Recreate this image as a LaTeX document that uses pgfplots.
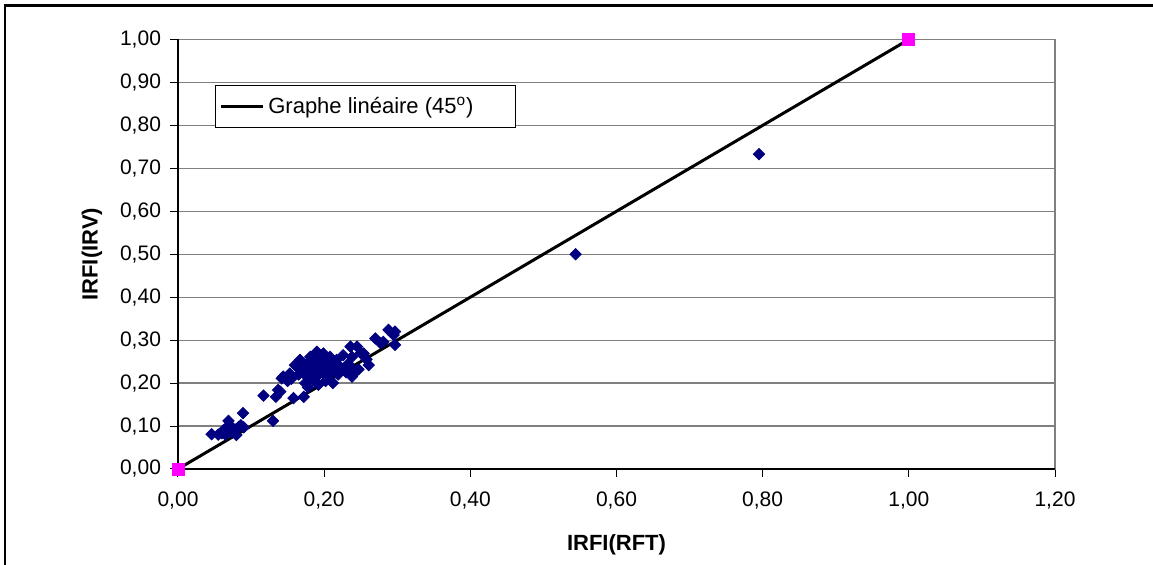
\documentclass[border=0pt]{standalone}
\usepackage{pgfplots}
\pgfplotsset{compat=1.18}
\usepackage{fontspec}
\setmainfont{Liberation Sans}
\definecolor{navyd}{RGB}{0,0,128}
\definecolor{magp}{RGB}{255,0,255}
\definecolor{gridg}{RGB}{128,128,128}
\begin{document}
\begin{tikzpicture}
\useasboundingbox (0,0) rectangle (576.5pt,282.5pt);
\draw[line width=1.2pt] (2.5pt,-1pt) -- (2.5pt,279.8pt) -- (578pt,279.8pt);
\begin{axis}[
  at={(89pt,48pt)}, anchor=south west,
  scale only axis, width=438.5pt, height=214.75pt,
  xmin=0, xmax=1.2, ymin=0, ymax=1,
  xtick={0,0.2,...,1.2}, ytick={0,0.1,...,1.0},
  tick align=outside, major tick length=4pt,
  tick style={black, line width=0.5pt},
  xtick pos=bottom, ytick pos=left,
  axis line style={gridg, line width=0.7pt},
  ymajorgrids, grid style={gridg, line width=0.6pt},
  /pgf/number format/.cd, fixed, fixed zerofill, precision=2, use comma, assume math mode=true,
  /pgfplots/.cd,
  ticklabel style={font=\fontsize{10.5}{12}\selectfont},
  xticklabel style={yshift=-4pt},
  yticklabel style={xshift=-1pt},
  xlabel={\textbf{IRFI(RFT)}}, ylabel={\textbf{IRFI(IRV)}},
  label style={font=\fontsize{11}{13}\selectfont},
  xlabel style={at={(axis description cs:0.5,-0.177)}, anchor=center},
  ylabel style={at={(axis description cs:-0.098,0.5)}, anchor=center, rotate=0},
  legend style={at={(axis description cs:0.042,0.893)}, anchor=north west,
    draw=black, line width=0.5pt, font=\fontsize{11}{13}\selectfont,
    inner xsep=2pt, inner ysep=3.6pt, cells={anchor=west}},
  legend image code/.code={\draw[#1] (0pt,0pt) -- (21pt,0pt);},
  legend cell align=left,
  clip=false,
]
\draw[black, line width=0.7pt] (axis cs:0,0) -- (axis cs:1.2,0);
\draw[black, line width=0.7pt] (axis cs:0,0) -- (axis cs:0,1);
\addplot[only marks, mark=square*, mark size=2.0pt, mark options={rotate=45, fill=navyd, draw=navyd}, forget plot] table {
x y
0.046 0.081
0.055 0.080
0.060 0.083
0.062 0.090
0.065 0.080
0.066 0.096
0.069 0.112
0.072 0.100
0.074 0.085
0.078 0.092
0.080 0.079
0.083 0.098
0.086 0.102
0.089 0.130
0.090 0.097
0.117 0.171
0.130 0.112
0.134 0.168
0.137 0.184
0.140 0.180
0.142 0.211
0.144 0.215
0.150 0.205
0.153 0.222
0.155 0.210
0.158 0.165
0.160 0.242
0.163 0.238
0.165 0.220
0.167 0.254
0.170 0.230
0.172 0.168
0.174 0.200
0.176 0.215
0.177 0.245
0.178 0.190
0.180 0.235
0.181 0.261
0.183 0.225
0.185 0.238
0.185 0.207
0.187 0.250
0.190 0.273
0.190 0.215
0.192 0.196
0.195 0.230
0.195 0.260
0.197 0.245
0.199 0.269
0.200 0.222
0.202 0.205
0.204 0.215
0.205 0.250
0.207 0.238
0.208 0.261
0.210 0.228
0.212 0.200
0.213 0.230
0.215 0.245
0.217 0.254
0.219 0.220
0.222 0.238
0.224 0.232
0.226 0.265
0.230 0.225
0.233 0.245
0.236 0.285
0.238 0.261
0.238 0.215
0.240 0.230
0.245 0.285
0.245 0.230
0.247 0.232
0.250 0.270
0.254 0.269
0.258 0.255
0.261 0.242
0.270 0.304
0.277 0.293
0.281 0.296
0.288 0.324
0.295 0.312
0.297 0.320
0.297 0.289
0.544 0.500
0.795 0.733
};
\addplot[black, line width=1.5pt, mark=none] coordinates {(0,0) (1,1)};
\addlegendentry{Graphe linéaire (45\textsuperscript{o})\rule{17pt}{0pt}}
\addplot[only marks, mark=square*, mark size=3pt, mark options={fill=magp, draw=magp}, forget plot] coordinates {(0,0) (1,1)};
\end{axis}
\end{tikzpicture}
\end{document}
